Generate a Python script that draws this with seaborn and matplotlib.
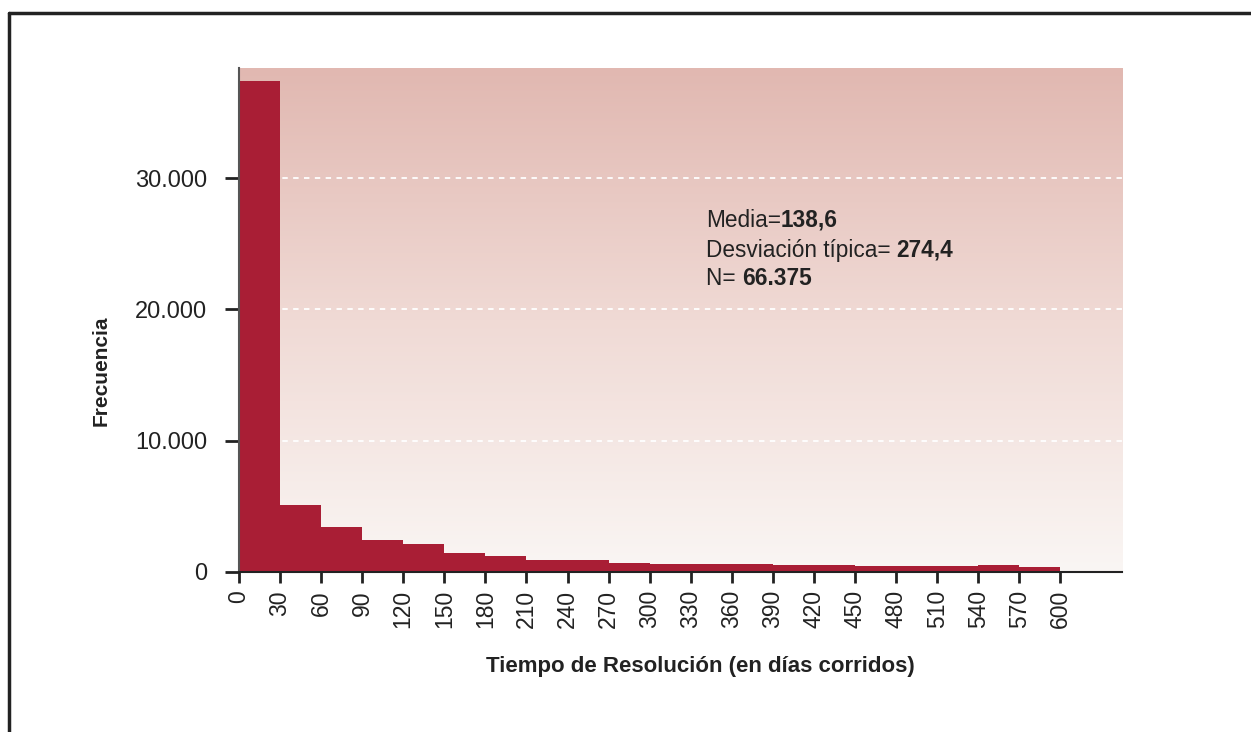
import numpy as np
import pandas as pd
import seaborn as sns
import matplotlib.pyplot as plt
from matplotlib.colors import LinearSegmentedColormap
from matplotlib.lines import Line2D
from matplotlib.ticker import FuncFormatter

# frecuencias por tramo de 30 días
bin_edges = list(range(0, 630, 30))
freq = [37400, 5080, 3400, 2410, 2110, 1420, 1190, 890, 890, 660,
        585, 585, 585, 510, 510, 430, 430, 430, 510, 355]
x_ticks = list(range(0, 601, 30))
y_ticks = [0, 10000, 20000, 30000]
stats_labels = ["Media=", "Desviación típica= ", "N= "]
stats_values = ["138,6", "274,4", "66.375"]

df = pd.DataFrame({"dias": bin_edges[:-1], "frecuencia": freq})

sns.set_theme(style="white")
plt.rcParams['font.family'] = ['Liberation Sans', 'DejaVu Sans']
text_color = "#222222"

fig = plt.figure(figsize=(12.51, 7.32), dpi=100)
ax = fig.add_axes([0.191, 0.2186, 0.7059, 0.6885])

xmax, ymax = 645, 38400

# fondo degradado
cmap = LinearSegmentedColormap.from_list("fondo", ["#e1b8b1", "#f0dad5", "#faf6f4"])
ax.imshow(np.linspace(0, 1, 256).reshape(-1, 1), aspect='auto', cmap=cmap,
          extent=(0, xmax, 0, ymax), origin='upper', zorder=0)

for y in y_ticks[1:]:
    ax.axhline(y, color='white', ls=(0, (3, 3)), lw=1.3, zorder=1)

sns.histplot(data=df, x="dias", weights="frecuencia", bins=bin_edges,
             color="#a91e35", alpha=1, edgecolor="none", linewidth=0,
             ax=ax, zorder=3)

ax.set_xlim(0, xmax)
ax.set_ylim(0, ymax)

ax.spines['top'].set_visible(False)
ax.spines['right'].set_visible(False)
ax.spines['left'].set_color('#555555')
ax.spines['left'].set_linewidth(1.5)
ax.spines['bottom'].set_color(text_color)
ax.spines['bottom'].set_linewidth(1.5)
ax.spines['left'].set_zorder(4)
ax.spines['bottom'].set_zorder(4)

ax.set_xticks(x_ticks)
ax.set_xticklabels([str(t) for t in x_ticks], rotation=90)
ax.set_yticks(y_ticks)
ax.yaxis.set_major_formatter(FuncFormatter(lambda v, p: f"{int(v):,}".replace(",", ".")))
ax.tick_params(axis='both', bottom=True, left=True, direction='out',
               width=2, color=text_color, labelsize=17, labelcolor=text_color)
ax.tick_params(axis='x', length=8, pad=5, labelsize=16.5)
ax.tick_params(axis='y', length=10, pad=13)

ax.set_xlabel("Tiempo de Resolución (en días corridos)", fontweight='bold',
              fontsize=16, color=text_color)
ax.xaxis.set_label_coords(0.522, -0.167)
ax.set_ylabel("Frecuencia", fontweight='bold', fontsize=15, color=text_color)
ax.yaxis.set_label_coords(-0.145, 0.40)

# estadísticos
stats_y = [26810, 24520, 22390]
for lab, val, y in zip(stats_labels, stats_values, stats_y):
    t = ax.text(341, y, lab, fontsize=16.3, va='center', color=text_color, zorder=5)
    ax.annotate(val, xy=(1, 0), xycoords=t, ha='left', va='bottom',
                fontsize=16.3, fontweight='bold', color=text_color, zorder=5)

# marco
fig.add_artist(Line2D([9 / 1251, 1], [1 - 13 / 732] * 2, transform=fig.transFigure,
                      color=text_color, lw=2.5))
fig.add_artist(Line2D([9 / 1251] * 2, [0, 1 - 13 / 732], transform=fig.transFigure,
                      color=text_color, lw=2.5))

fig.savefig("out.png", dpi=100)
